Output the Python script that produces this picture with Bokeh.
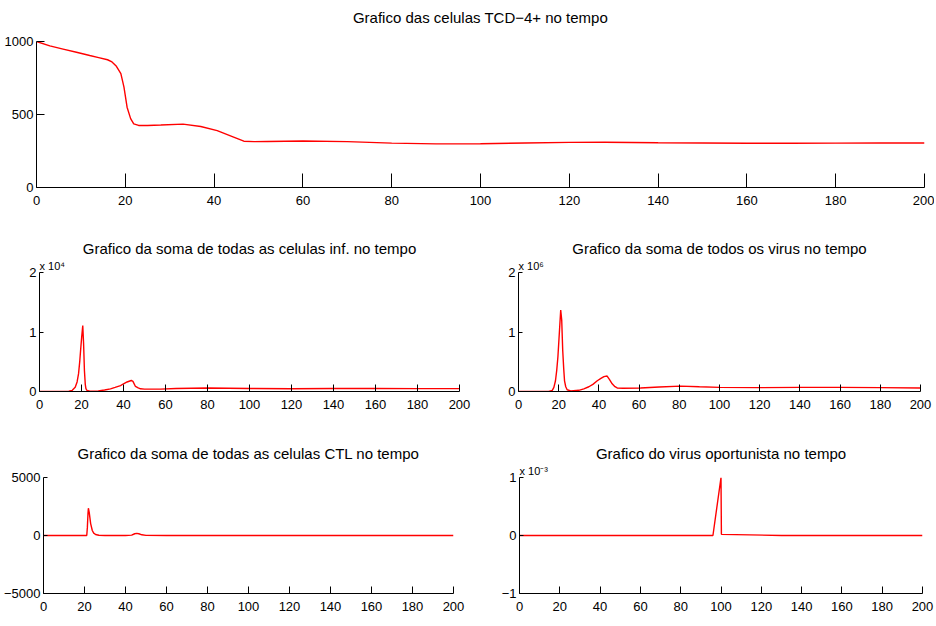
from bokeh.plotting import figure
from bokeh.layouts import column, row
from bokeh.models import Range1d, FixedTicker, Title
from bokeh.embed import file_html
from bokeh.resources import INLINE

# ---------------- data ----------------
x_ticks = [0, 20, 40, 60, 80, 100, 120, 140, 160, 180, 200]

cd4_t = [0, 3, 6, 9, 12, 14, 16, 17, 18, 19, 19.7, 20.4, 21.2, 21.9, 23, 25, 28, 33, 37,
         40.7, 44.4, 46.7, 49, 52, 60, 70, 80, 90, 100, 110, 120, 128, 140, 150, 160, 170,
         180, 190, 200]
cd4_v = [1000, 970, 948, 926, 904, 890, 875, 860, 830, 780, 687, 550, 472, 436, 425, 425,
         428, 434, 418, 390, 345, 317, 314, 315, 318, 314, 304, 299, 300, 305, 309, 310,
         307, 305, 303, 303, 304, 305, 305]

inf_t = [0, 10, 14, 15.6, 17, 17.9, 18.6, 19.2, 19.7, 20.1, 20.6, 21, 21.4, 21.8, 22.1, 22.6,
         24, 28, 31, 33.8, 36, 38.6, 40, 41.7, 43.7, 44.5, 45.7, 47, 48.1, 50, 57.6, 65, 80,
         100, 120, 140, 160, 180, 200]
inf_v = [0, 0, 50, 200, 700, 1600, 3000, 5200, 7500, 9200, 11100, 8000, 3500, 1200, 500,
         200, 50, 100, 250, 450, 700, 1000, 1300, 1600, 1850, 1700, 850, 600, 450, 400, 400,
         500, 600, 500, 450, 500, 500, 480, 480]

vir_t = [0, 10, 15, 16.8, 17.6, 18.4, 19.0, 19.6, 20.4, 21.0, 21.5, 22, 22.5, 22.9, 23.5,
         24.2, 26, 30, 32.5, 35, 37, 39.2, 41, 42.5, 44.1, 45.3, 46.6, 48, 49.1, 52, 60.7, 70,
         80.6, 90, 100, 120, 140, 160, 180, 200]
vir_v = [0, 0, 2e3, 2e4, 7e4, 1.8e5, 3.5e5, 5.8e5, 1.03e6, 1.37e6, 1.2e6, 6.9e5, 3.8e5,
         1.8e5, 8e4, 3e4, 1e4, 2e4, 4.5e4, 8e4, 1.2e5, 1.8e5, 2.2e5, 2.5e5, 2.6e5, 2.0e5,
         1.3e5, 8e4, 6e4, 5.5e4, 6e4, 7.5e4, 9e4, 8e4, 7e4, 6.5e4, 7e4, 7e4, 6.5e4, 6e4]

ctl_t = [0, 10, 20, 21.1, 21.4, 21.7, 21.9, 22.3, 23, 23.8, 24.5, 25.4, 27, 30, 40, 43, 44.5,
         45.5, 46.5, 48, 50, 60, 100, 150, 200]
ctl_v = [0, 0, 0, 0, 700, 1900, 2350, 2000, 1030, 430, 200, 90, 20, 0, 0, 30, 150, 180, 150,
         60, 10, 0, 0, 0, 0]

opp_t = [0, 96, 100, 100.2, 130, 200]
opp_v = [0, 0, 0.001, 0.00002, 0, 0]

titles = ["Grafico das celulas TCD\u22124+ no tempo",
          "Grafico da soma de todas as celulas inf. no tempo",
          "Grafico da soma de todos os virus no tempo",
          "Grafico da soma de todas as celulas CTL no tempo",
          "Grafico do virus oportunista no tempo"]
exp_labels = ["x 10\u2074", "x 10\u2076", "x 10\u207b\u00b3"]

FONT = "Liberation Sans"
RED = "#ff0000"


def make_fig(w, h, bl, br, bt, bb, yr, yticks, ylabels, title, tin_x, tin_y, tstand,
             exp=None):
    p = figure(width=w, height=h, output_backend="svg", toolbar_location=None,
               x_range=Range1d(0, 200), y_range=Range1d(*yr),
               min_border_left=bl, min_border_right=br, min_border_top=bt,
               min_border_bottom=bb, title=title)
    p.outline_line_color = None
    p.grid.visible = False
    p.background_fill_color = "white"
    p.border_fill_color = "white"
    p.title.align = "center"
    p.title.text_font = FONT
    p.title.text_font_size = "15px"
    p.title.text_font_style = "normal"
    p.title.text_color = "black"
    p.title.standoff = tstand
    if exp is not None:
        # exponent of the y axis, just above the top-left corner of the frame
        p.add_layout(Title(text=exp, align="left", text_font=FONT, text_font_size="11px",
                           text_font_style="normal", text_color="black", standoff=2,
                           text_line_height=0.6), "above")
    xa = p.xaxis[0]
    ya = p.yaxis[0]
    xa.ticker = FixedTicker(ticks=x_ticks)
    ya.ticker = FixedTicker(ticks=yticks)
    ya.major_label_overrides = {k: v for k, v in zip(yticks, ylabels)}
    for ax in (xa, ya):
        ax.axis_line_color = "black"
        ax.axis_line_width = 1
        ax.major_tick_line_color = "black"
        ax.major_tick_out = 0
        ax.minor_tick_line_color = None
        ax.major_label_text_font = FONT
        ax.major_label_text_font_size = "13px"
        ax.major_label_text_color = "black"
    xa.major_tick_in = tin_x
    ya.major_tick_in = tin_y
    xa.major_label_standoff = 8
    ya.major_label_standoff = 3
    return p


p0 = make_fig(934, 210, 36, 10, 41, 23, (0, 1000), [0, 500, 1000], ["0", "500", "1000"],
              titles[0], 14, 8, 0)
# spacer between the title and the frame
p0.add_layout(Title(text=" ", text_font=FONT, text_font_size="10px", standoff=3), "above")
p0.line(cd4_t, cd4_v, line_color=RED, line_width=1.4)

p1 = make_fig(473, 206, 39, 14, 62, 25, (0, 20000), [0, 10000, 20000], ["0", "1", "2"],
              titles[1], 7, 4, 0, exp_labels[0])
p1.line(inf_t, inf_v, line_color=RED, line_width=1.4)

p2 = make_fig(461, 206, 45, 14, 62, 25, (0, 2e6), [0, 1e6, 2e6], ["0", "1", "2"],
              titles[2], 7, 4, 0, exp_labels[1])
p2.line(vir_t, vir_v, line_color=RED, line_width=1.4)

p3 = make_fig(467, 202, 41, 14, 61, 25, (-5000, 5000), [-5000, 0, 5000],
              ["\u22125000", "0", "5000"], titles[3], 7, 4, 32)
p3.line(ctl_t, ctl_v, line_color=RED, line_width=1.4)

p4 = make_fig(467, 202, 52, 12, 61, 25, (-0.001, 0.001), [-0.001, 0, 0.001],
              ["\u22121", "0", "1"], titles[4], 7, 4, 0, exp_labels[2])
p4.line(opp_t, opp_v, line_color=RED, line_width=1.4)

layout = column(p0, row(p1, p2), row(p3, p4))
open("out.html", "w").write(file_html(layout, INLINE))
